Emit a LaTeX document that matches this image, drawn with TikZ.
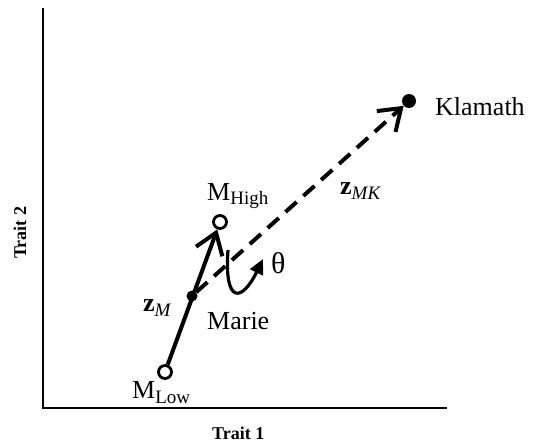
\documentclass[tikz,border=0pt]{standalone}
\usepackage{fontspec}
\setmainfont{Liberation Serif}
\usetikzlibrary{arrows.meta}
\newcommand{\subtxt}[1]{\raisebox{-5pt}{\fontsize{19}{20}\selectfont #1}}
\tikzset{
  opendot/.style={circle, draw, line width=2.8pt, fill=white, inner sep=0pt, minimum size=13pt},
  fulldot/.style={circle, fill, inner sep=0pt, minimum size=#1},
  lbl/.style={anchor=base west, inner sep=0pt, font=\fontsize{26}{30}\selectfont},
  axislbl/.style={anchor=base west, inner sep=0pt, font=\fontsize{18}{20}\selectfont\bfseries},
  axisline/.style={line width=2.6pt},
  solidarrow/.style={line width=4pt, -{Straight Barb[length=20pt,width=28pt]}},
  dasharrow/.style={line width=4pt, dash pattern=on 15pt off 9pt, -{Straight Barb[length=20pt,width=28pt]}},
  thetaarrow/.style={line width=3.2pt, -{Triangle[length=15pt,width=14pt]}}
}
\begin{document}
\begin{tikzpicture}[x=1pt,y=-1pt]
\useasboundingbox (0,0) rectangle (536,444);
% axes
\coordinate (ytop) at (43,8);
\coordinate (orig) at (43,408);
\coordinate (xend) at (447,408);
\draw[axisline] (ytop) -- (orig) -- (xend);
\node[axislbl] (xlbl) at (212,439) {Trait 1};
\node[axislbl, rotate=90] (ylbl) at (26,259) {Trait 2};

% populations
\node[opendot] (mlow) at (165,372) {};
\node[opendot] (mhigh) at (220,222) {};
\node[fulldot=11pt] (marie) at (192,296) {};
\node[fulldot=14pt] (klamath) at (409,101) {};

% vectors
\draw[solidarrow] (mlow) -- (mhigh);
\draw[dasharrow] (marie) -- (klamath);

% angle
\coordinate (thstart) at (228,250);
\coordinate (thend) at (263,259);
\draw[thetaarrow] (thstart) .. controls (224,305) and (242,302) .. (thend);

% labels
\node[lbl] (mlowlbl) at (132,398) {M\subtxt{Low}};
\node[lbl] (mhighlbl) at (207,200) {M\subtxt{High}};
\node[lbl] (marielbl) at (207,329) {Marie};
\node[lbl] (klamathlbl) at (435,115) {Klamath};
\node[lbl] (zmlbl) at (143,311) {\textbf{z}\subtxt{\textit{M}}};
\node[lbl] (zmklbl) at (340,194) {\textbf{z}\subtxt{\textit{MK}}};
\node[lbl, font=\fontsize{30}{32}\selectfont] (thlbl) at (271,273) {θ};
\end{tikzpicture}
\end{document}
